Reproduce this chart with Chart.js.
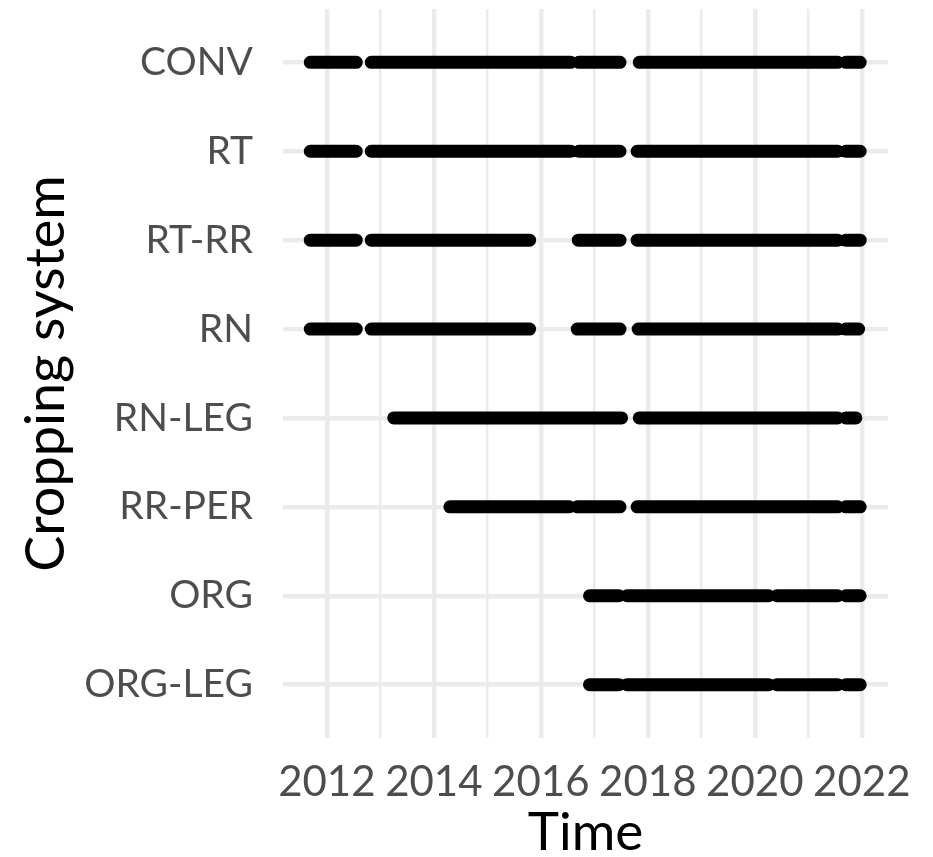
<!DOCTYPE html>
<html>
<head>
<meta charset="utf-8">
<script src="https://cdn.jsdelivr.net/npm/chart.js@4.4.1/dist/chart.umd.min.js"></script>
<style>
  html, body { margin: 0; padding: 0; background: #fff; }
  #wrap { width: 933px; height: 857px; }
</style>
</head>
<body>
<div id="wrap"><canvas id="timeline-chart" width="933" height="857"></canvas></div>
<script>
// Cropping systems, top to bottom
const systems = ['CONV', 'RT', 'RT-RR', 'RN', 'RN-LEG', 'RR-PER', 'ORG', 'ORG-LEG'];

// Measured periods per system, [start, end] in decimal years
const convPeriods   = [[2011.69, 2012.55], [2012.83, 2016.56], [2016.71, 2017.48], [2017.84, 2021.55], [2021.70, 2021.97]];
const rtPeriods     = [[2011.69, 2012.55], [2012.83, 2016.56], [2016.71, 2017.48], [2017.80, 2021.55], [2021.70, 2021.97]];
const rtrrPeriods   = [[2011.69, 2012.55], [2012.83, 2015.79], [2016.70, 2017.48], [2017.80, 2021.55], [2021.70, 2021.97]];
const rnPeriods     = [[2011.69, 2012.55], [2012.83, 2015.79], [2016.68, 2017.48], [2017.82, 2021.55], [2021.70, 2021.94]];
const rnlegPeriods  = [[2013.25, 2017.51], [2017.84, 2021.55], [2021.70, 2021.89]];
const rrperPeriods  = [[2014.30, 2016.53], [2016.68, 2017.48], [2017.80, 2021.55], [2021.70, 2021.97]];
const orgPeriods    = [[2016.91, 2017.46], [2017.61, 2020.26], [2020.41, 2021.55], [2021.70, 2021.97]];
const orglegPeriods = [[2016.91, 2017.46], [2017.61, 2020.26], [2020.41, 2021.55], [2021.70, 2021.97]];

const allPeriods = [convPeriods, rtPeriods, rtrrPeriods, rnPeriods, rnlegPeriods, rrperPeriods, orgPeriods, orglegPeriods];

// x axis years (gridlines) and which ones get a label
const yearTicks = [2012, 2013, 2014, 2015, 2016, 2017, 2018, 2019, 2020, 2021, 2022];
const labelledYears = [2012, 2014, 2016, 2018, 2020, 2022];

// turn periods into line points, null y breaks the line
function buildPoints(periods, row) {
    const pts = [];
    periods.forEach((p, i) => {
        if (i > 0) pts.push({ x: (periods[i - 1][1] + p[0]) / 2, y: null });
        pts.push({ x: p[0], y: row });
        pts.push({ x: p[1], y: row });
    });
    return pts;
}

const datasets = allPeriods.map((periods, row) => ({
    label: systems[row],
    data: buildPoints(periods, row),
    borderColor: '#000000',
    borderWidth: 13,
    borderCapStyle: 'round',
    pointRadius: 0,
    spanGaps: false,
    tension: 0,
}));

const fontFamily = 'Lato, "Open Sans", sans-serif';

const ctx = document.getElementById('timeline-chart').getContext('2d');
const timelineChart = new Chart(ctx, {
    type: 'line',
    data: { datasets: datasets },
    options: {
        responsive: false,
        animation: false,
        layout: { padding: { left: 0, right: 45, top: 9, bottom: 0 } },
        plugins: { legend: { display: false }, tooltip: { enabled: false } },
        scales: {
            x: {
                type: 'linear',
                min: 2011.18,
                max: 2022.49,
                afterBuildTicks: (scale) => { scale.ticks = yearTicks.map(v => ({ value: v })); },
                afterFit: (scale) => {
                    scale.height = 119;
                    scale.paddingLeft = 0;
                    scale.paddingRight = 0;
                },
                grid: {
                    color: '#ebebeb',
                    lineWidth: (c) => (c.tick && c.tick.value % 2 === 0 ? 4.5 : 2.5),
                    drawTicks: false,
                },
                border: { display: false },
                ticks: {
                    autoSkip: false,
                    maxRotation: 0,
                    padding: 19,
                    color: '#4d4d4d',
                    font: { family: fontFamily, size: 42 },
                    callback: (v) => (labelledYears.includes(v) ? String(v) : ''),
                },
                title: {
                    display: true,
                    text: 'Time',
                    color: '#000000',
                    font: { family: fontFamily, size: 53, lineHeight: 1 },
                    padding: { top: 0, bottom: -2 },
                },
            },
            y: {
                type: 'linear',
                reverse: true,
                min: -0.6,
                max: 7.6,
                afterBuildTicks: (scale) => { scale.ticks = systems.map((s, i) => ({ value: i })); },
                afterFit: (scale) => {
                    scale.width = 283;
                    scale.paddingTop = 0;
                    scale.paddingBottom = 0;
                },
                grid: { color: '#ebebeb', lineWidth: 4.5, drawTicks: false },
                border: { display: false },
                ticks: {
                    autoSkip: false,
                    padding: 30,
                    color: '#4d4d4d',
                    font: { family: fontFamily, size: 39 },
                    callback: (v) => systems[v],
                },
                title: {
                    display: true,
                    text: 'Cropping system',
                    color: '#000000',
                    font: { family: fontFamily, size: 54, lineHeight: 1 },
                    padding: { top: 20, bottom: 0 },
                },
            },
        },
    },
});
</script>
</body>
</html>
